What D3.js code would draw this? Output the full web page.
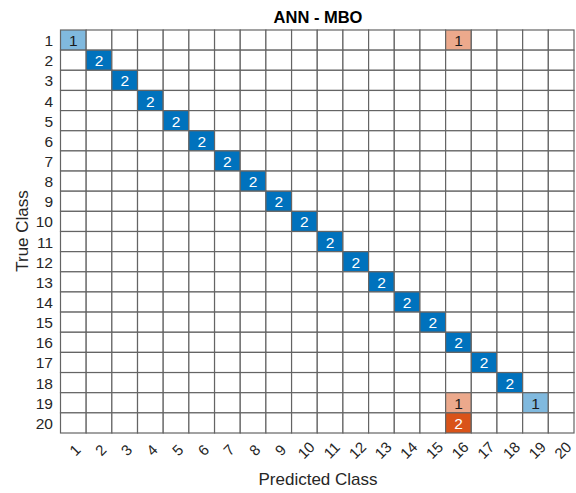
<!DOCTYPE html>
<html><head><meta charset="utf-8">
<script src="https://cdn.jsdelivr.net/npm/d3@7"></script>
<style>body{margin:0;background:#fff}svg{display:block}text{font-family:"Liberation Sans",Arial,sans-serif}</style>
</head><body>
<script>
const classes = d3.range(1, 21).map(String);
const title = "ANN - MBO";
const xLabel = "Predicted Class";
const yLabel = "True Class";
// nonzero entries: [trueClass, predictedClass, count]
const trueIdx = ["1","1","2","3","4","5","6","7","8","9","10","11","12","13","14","15","16","17","18","19","19","20"];
const predIdx = ["1","16","2","3","4","5","6","7","8","9","10","11","12","13","14","15","16","17","18","16","19","16"];
const counts  = [1,1,2,2,2,2,2,2,2,2,2,2,2,2,2,2,2,2,2,1,1,2];

const W = 576, H = 493;
const svg = d3.select("body").append("svg").attr("width", W).attr("height", H);
const x = d3.scaleBand().domain(classes).range([60.5, 574]);
const y = d3.scaleBand().domain(classes).range([30, 433]);
const maxV = d3.max(counts);
const diagCol = d3.interpolateRgb("#ffffff", "#0072BD");
const offCol = d3.interpolateRgb("#ffffff", "#D95319");

const cells = [];
classes.forEach(r => classes.forEach(c => cells.push({r, c, v: 0})));
trueIdx.forEach((r, i) => {
  const cell = cells.find(d => d.r === r && d.c === predIdx[i]);
  cell.v = counts[i];
});

const g = svg.append("g");
g.selectAll("rect").data(cells).join("rect")
  .attr("x", d => x(d.c)).attr("y", d => y(d.r))
  .attr("width", x.bandwidth()).attr("height", y.bandwidth())
  .attr("fill", d => d.v === 0 ? "#fff" : (d.r === d.c ? diagCol(d.v / maxV) : offCol(d.v / maxV)))
  .attr("stroke", "#646464").attr("stroke-width", 1.2);

g.selectAll("text.val").data(cells.filter(d => d.v > 0)).join("text")
  .attr("class", "val")
  .attr("x", d => x(d.c) + x.bandwidth() / 2)
  .attr("y", d => y(d.r) + y.bandwidth() / 2 + 0.5)
  .attr("text-anchor", "middle").attr("dominant-baseline", "central")
  .attr("font-size", 15.5)
  .attr("fill", d => d.v / maxV > 0.6 ? "#fff" : "#1a1a1a")
  .text(d => d.v);

// y tick labels
svg.selectAll("text.yt").data(classes).join("text")
  .attr("class", "yt")
  .attr("x", 53).attr("y", d => y(d) + y.bandwidth() / 2 + 0.5)
  .attr("text-anchor", "end").attr("dominant-baseline", "central")
  .attr("font-size", 15.5).attr("fill", "#262626").text(d => d);

// x tick labels (rotated)
svg.selectAll("text.xt").data(classes).join("text")
  .attr("class", "xt")
  .attr("transform", d => `translate(${x(d) + x.bandwidth() / 2 + 1.5},450) rotate(-45)`)
  .attr("text-anchor", "middle").attr("dominant-baseline", "central")
  .attr("font-size", 15).attr("fill", "#262626").text(d => d);

svg.append("text").attr("x", 318).attr("y", 23).attr("text-anchor", "middle")
  .attr("font-size", 16.5).attr("font-weight", "bold").attr("fill", "#000").text(title);
svg.append("text").attr("x", 318).attr("y", 485).attr("text-anchor", "middle")
  .attr("font-size", 17).attr("fill", "#262626").text(xLabel);
svg.append("text").attr("transform", "translate(28,231) rotate(-90)").attr("text-anchor", "middle")
  .attr("font-size", 17).attr("fill", "#262626").text(yLabel);
</script>
</body></html>
